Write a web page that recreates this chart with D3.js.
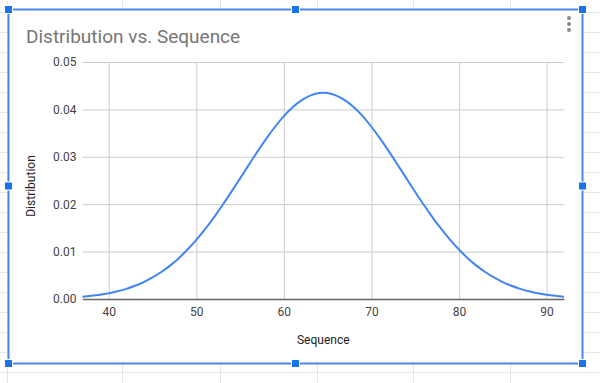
<!DOCTYPE html>
<html>
<head>
<meta charset="utf-8">
<script src="https://cdn.jsdelivr.net/npm/d3@7"></script>
<style>
  body { margin: 0; background: #fff; }
  svg { display: block; font-family: Roboto, Arial, sans-serif; }
</style>
</head>
<body>
<div id="chart"></div>
<script>
// values
const sequence = [37, 38, 39, 40, 41, 42, 43, 44, 45, 46, 47, 48, 49, 50, 51, 52, 53, 54, 55, 56, 57, 58, 59, 60, 61, 62, 63, 64,
  65, 66, 67, 68, 69, 70, 71, 72, 73, 74, 75, 76, 77, 78, 79, 80, 81, 82, 83, 84, 85, 86, 87, 88, 89, 90, 91, 92];
const distribution = [0.00049, 0.00067, 0.00091, 0.00123, 0.00163, 0.00214, 0.00279, 0.00358, 0.00454, 0.00569, 0.00704,
  0.00862, 0.01043, 0.01246, 0.01472, 0.01718, 0.01982, 0.02259, 0.02544, 0.02831, 0.03114, 0.03384, 0.03634, 0.03857,
  0.04044, 0.04191, 0.04292, 0.04344, 0.04344, 0.04292, 0.04191, 0.04044, 0.03857, 0.03634, 0.03384, 0.03114, 0.02831,
  0.02544, 0.02259, 0.01982, 0.01718, 0.01472, 0.01246, 0.01043, 0.00862, 0.00704, 0.00569, 0.00454, 0.00358, 0.00279,
  0.00214, 0.00163, 0.00123, 0.00091, 0.00067, 0.00049];
const xTicks = [40, 50, 60, 70, 80, 90];
const yTicks = [0, 0.01, 0.02, 0.03, 0.04, 0.05];
const title = "Distribution vs. Sequence";
const xTitle = "Sequence";
const yTitle = "Distribution";

const W = 600, H = 383;
const svg = d3.select("#chart").append("svg").attr("width", W).attr("height", H);

// spreadsheet cells behind the chart
const bg = svg.append("g").attr("stroke", "#e6e6e6").attr("stroke-width", 1);
d3.range(12, H, 20).forEach((y) => {
  bg.append("line").attr("x1", 0).attr("x2", W).attr("y1", y + 0.5).attr("y2", y + 0.5);
});
[7, 122, 220, 317, 413, 510].forEach((x) => {
  bg.append("line").attr("x1", x + 0.5).attr("x2", x + 0.5).attr("y1", 0).attr("y2", H);
});

// chart card
svg.append("rect").attr("x", 8).attr("y", 9).attr("width", 574).attr("height", 354).attr("fill", "#fff");

const x = d3.scaleLinear().domain([37, 92]).range([82.5, 564]);
const y = d3.scaleLinear().domain([0, 0.05]).range([299, 62]);

svg.append("text")
  .attr("x", 26).attr("y", 43)
  .attr("font-size", 19).attr("fill", "#757575")
  .text(title);

// gridlines
svg.append("g")
  .attr("transform", `translate(0,${y(0)})`)
  .call(d3.axisBottom(x).tickValues(xTicks).tickSize(-(y(0) - y(0.05))).tickFormat(""))
  .call((g) => g.select(".domain").remove())
  .call((g) => g.selectAll("line").attr("stroke", "#cccccc"));

svg.append("g")
  .attr("transform", `translate(${x(37)},0)`)
  .call(d3.axisLeft(y).tickValues(yTicks).tickSize(-(x(92) - x(37))).tickPadding(6)
    .tickFormat(d3.format(".2f")))
  .call((g) => g.select(".domain").remove())
  .call((g) => g.selectAll("line").attr("stroke", "#cccccc"))
  .call((g) => g.selectAll("text").attr("font-size", 12).attr("fill", "#444").attr("font-family", "Roboto"));

// x labels
svg.append("g")
  .attr("transform", `translate(0,${y(0)})`)
  .call(d3.axisBottom(x).tickValues(xTicks).tickSize(0).tickPadding(8))
  .call((g) => g.select(".domain").attr("stroke", "#666").attr("stroke-width", 1.5))
  .call((g) => g.selectAll("text").attr("font-size", 12).attr("fill", "#444").attr("font-family", "Roboto"));

const line = d3.line()
  .x((d, i) => x(sequence[i]))
  .y((d) => y(d))
  .curve(d3.curveCatmullRom);

svg.append("path")
  .datum(distribution)
  .attr("d", line)
  .attr("fill", "none")
  .attr("stroke", "#4285f4")
  .attr("stroke-width", 2);

svg.append("text")
  .attr("x", (x(37) + x(92)) / 2).attr("y", 344)
  .attr("text-anchor", "middle").attr("font-size", 12).attr("fill", "#222")
  .text(xTitle);

svg.append("text")
  .attr("transform", `translate(35,186) rotate(-90)`)
  .attr("text-anchor", "middle").attr("font-size", 12).attr("fill", "#222")
  .text(yTitle);

// menu dots
[18, 24, 30].forEach((cy) => {
  svg.append("circle").attr("cx", 569).attr("cy", cy).attr("r", 2).attr("fill", "#8a8a8a");
});

// selection frame and handles
svg.append("rect").attr("x", 8.5).attr("y", 9.5).attr("width", 574).attr("height", 354)
  .attr("fill", "none").attr("stroke", "#4a86e8").attr("stroke-width", 2);
const handles = [[8.5, 9.5], [295.5, 9.5], [582.5, 9.5], [8.5, 186], [582.5, 186], [8.5, 363.5], [295.5, 363.5], [582.5, 363.5]];
handles.forEach(([hx, hy]) => {
  svg.append("rect").attr("x", hx - 4).attr("y", hy - 4).attr("width", 8).attr("height", 8)
    .attr("fill", "#1a73e8").attr("stroke", "#fff").attr("stroke-width", 1);
});
</script>
</body>
</html>
